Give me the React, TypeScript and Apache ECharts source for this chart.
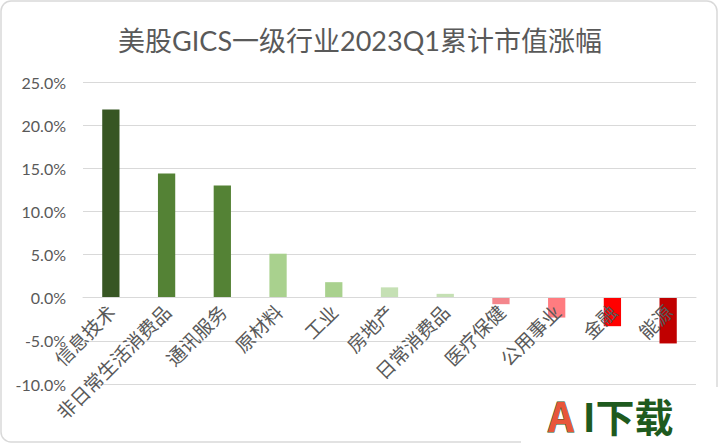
import React, { useEffect, useRef } from "react";
import * as echarts from "echarts";

const categories = ["信息技术", "非日常生活消费品", "通讯服务", "原材料", "工业", "房地产", "日常消费品", "医疗保健", "公用事业", "金融", "能源"];
const values = [21.8, 14.4, 13.0, 5.1, 1.8, 1.2, 0.45, -0.75, -2.3, -3.3, -5.3];
const barColors = ["#375623", "#548235", "#548235", "#A9D18E", "#A9D18E", "#C5E0B4", "#C5E0B4", "#F4868C", "#FF7C80", "#FF0000", "#C00000"];
const titleText = "美股GICS一级行业2023Q1累计市值涨幅";
const yMin = -10;
const yMax = 25;
const yStep = 5;

export default function App() {
  const ref = useRef<HTMLDivElement>(null);
  useEffect(() => {
    if (!ref.current) return;
    const chart = echarts.init(ref.current, null, { renderer: "svg" });
    const font = "Lato, 'Noto Sans CJK SC', sans-serif";
    const gridTop = 82;
    const gridBottom = 61;
    const gridH = 445 - gridTop - gridBottom;
    const zeroOffset = -(gridH * (0 - yMin)) / (yMax - yMin);
    chart.setOption({
      animation: false,
      backgroundColor: "#ffffff",
      title: {
        text: titleText,
        left: "center",
        top: 22,
        textStyle: { fontSize: 27, fontWeight: "normal", color: "#595959", fontFamily: font },
      },
      grid: { left: 83, right: 24, top: gridTop, bottom: gridBottom, containLabel: false, outerBoundsMode: "none" },
      xAxis: {
        type: "category",
        data: categories,
        z: 5,
        offset: zeroOffset,
        axisLine: { show: true, onZero: false, lineStyle: { color: "#d9d9d9" } },
        axisTick: { show: false },
        axisLabel: {
          rotate: 45,
          interval: 0,
          margin: 10,
          fontSize: 19,
          color: "#595959",
          fontFamily: "'Noto Sans CJK SC', sans-serif",
        },
      },
      yAxis: {
        type: "value",
        min: yMin,
        max: yMax,
        interval: yStep,
        axisLine: { show: false },
        axisTick: { show: false },
        splitLine: { lineStyle: { color: "#d9d9d9", width: 1 } },
        axisLabel: {
          margin: 17,
          fontSize: 16,
          color: "#595959",
          fontFamily: font,
          formatter: (v: number) => v.toFixed(1) + "%",
        },
      },
      series: [
        {
          type: "bar",
          barWidth: "31%",
          data: values.map((v, i) => ({ value: v, itemStyle: { color: barColors[i] } })),
        },
      ],
      graphic: [
        {
          type: "rect",
          z: 100,
          shape: { x: 1, y: 1, width: 716, height: 441, r: 10 },
          style: { fill: "none", stroke: "#d9d9d9", lineWidth: 1.5 },
        },
        {
          type: "rect",
          z: 101,
          shape: { x: 521, y: 387, width: 199, height: 58 },
          style: { fill: "#ffffff" },
        },
        {
          type: "text",
          z: 102,
          x: 548,
          y: 415,
          style: {
            text: "{a|A}{b|I下载}",
            verticalAlign: "middle",
            rich: {
              a: {
                fill: "#E8563A",
                stroke: "#1E5A1E",
                lineWidth: 1,
                fontSize: 40,
                fontWeight: "bold",
                fontFamily: "'Noto Sans CJK SC', sans-serif",
                padding: [0, 9, 0, 0],
              },
              b: {
                fill: "#1E5A1E",
                fontSize: 39,
                fontWeight: "bold",
                fontFamily: "'Noto Sans CJK SC', sans-serif",
              },
            },
          },
        },
      ],
    });
    return () => chart.dispose();
  }, []);
  return <div ref={ref} style={{ position: "fixed", left: 0, top: 0, width: 720, height: 445 }} />;
}
